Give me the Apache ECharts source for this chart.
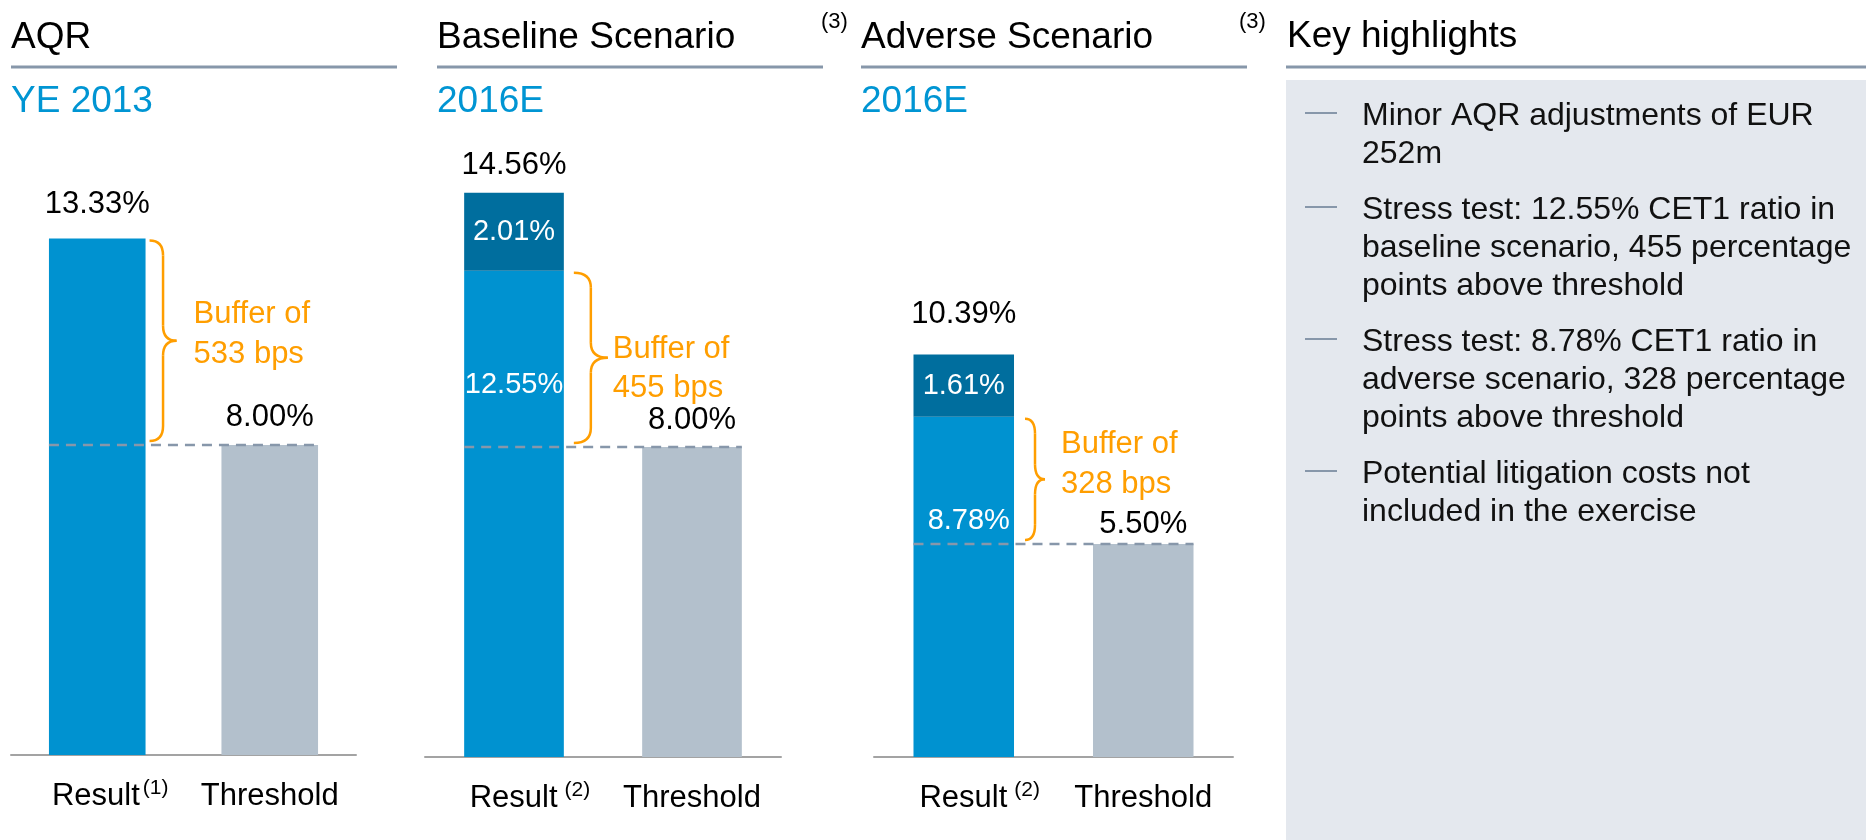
<!DOCTYPE html>
<html>
<head>
<meta charset="utf-8">
<title>AQR and stress test results</title>
<script src="https://cdn.jsdelivr.net/npm/echarts@6/dist/echarts.min.js"></script>
<style>
  html, body { margin: 0; padding: 0; background: #fff; }
  #chart { width: 1866px; height: 840px; }
</style>
</head>
<body>
<div id="chart"></div>
<script>
// panel headings
const panelTitles = ['AQR', 'Baseline Scenario', 'Adverse Scenario'];
const panelTitleNotes = ['', '(3)', '(3)'];
const panelPeriods = ['YE 2013', '2016E', '2016E'];
const categories = ['Result', 'Threshold'];
const resultNotes = ['(1)', '(2)', '(2)'];

// CET1 ratio in %
const cet1Result = [13.33, 12.55, 8.78];
const addOn = [0, 2.01, 1.61];          // dark block on top of the result
const threshold = [8.0, 8.0, 5.5];

const highlightsTitle = 'Key highlights';
const highlights = [
  ['Minor AQR adjustments of EUR', '252m'],
  ['Stress test: 12.55% CET1 ratio in', 'baseline scenario, 455 percentage', 'points above threshold'],
  ['Stress test: 8.78% CET1 ratio in', 'adverse scenario, 328 percentage', 'points above threshold'],
  ['Potential litigation costs not', 'included in the exercise']
];

// look
const FONT = '"Liberation Sans", Arial, Helvetica, sans-serif';
const BLUE = '#0092d0';
const DARK = '#006e9e';
const GREY_BAR = '#b3c0cc';
const ORANGE = '#ff9e00';
const RULE = '#8797aa';
const TITLE_BLUE = '#0095d3';

// layout of the three small charts
const grids = [
  { left: 11, top: 135, width: 345, height: 620 },
  { left: 425, top: 137, width: 356, height: 620 },
  { left: 874, top: 137, width: 359, height: 620 }
];
const headX = [11, 437, 861];
const ruleSpan = [[11, 397], [437, 823], [861, 1247]];
const noteX = [0, 821, 1239];
const totalGap = [19, 12, 24];
const thrGap = [12, 11, 4];
const innerGap = [0, 100, 90];
const brace = [
  { gap: 4, w: 27, dx: 17, dy: -15 },
  { gap: 10, w: 34, dx: 5, dy: 2 },
  { gap: 11, w: 20, dx: 16, dy: -24 }
];

const pct = (v) => v.toFixed(2) + '%';

const chart = echarts.init(document.getElementById('chart'));

const series = [];
panelTitles.forEach((t, i) => {
  const hasAddOn = addOn[i] > 0;
  series.push({
    name: t,
    type: 'bar',
    xAxisIndex: i,
    yAxisIndex: i,
    stack: 'p' + i,
    barWidth: '56%',
    data: [
      {
        value: cet1Result[i],
        itemStyle: { color: BLUE },
        label: {
          show: hasAddOn, position: 'insideTop', distance: innerGap[i],
          offset: [i === 2 ? 5 : 0, 0],
          color: '#fff', fontSize: 29, fontFamily: FONT,
          formatter: (p) => pct(p.value)
        }
      },
      {
        value: threshold[i],
        itemStyle: { color: GREY_BAR },
        label: {
          show: true, position: 'top', distance: thrGap[i],
          color: '#000', fontSize: 31, fontFamily: FONT,
          formatter: (p) => pct(p.value)
        }
      }
    ]
  });
  series.push({
    type: 'bar',
    xAxisIndex: i,
    yAxisIndex: i,
    stack: 'p' + i,
    barWidth: '56%',
    data: [
      {
        value: addOn[i],
        itemStyle: { color: DARK },
        label: {
          show: hasAddOn, position: 'inside',
          color: '#fff', fontSize: 29, fontFamily: FONT,
          formatter: (p) => pct(p.value)
        }
      },
      '-'
    ]
  });
  // total on top of the result bar
  series.push({
    type: 'scatter',
    xAxisIndex: i,
    yAxisIndex: i,
    symbolSize: 0,
    itemStyle: { opacity: 1 },
    data: [[0, +(cet1Result[i] + addOn[i]).toFixed(2)]],
    label: {
      show: true, position: 'top', distance: totalGap[i],
      color: '#000', opacity: 1, fontSize: 31, fontFamily: FONT,
      formatter: (p) => pct(p.value[1])
    }
  });
});

const option = {
  animation: false,
  backgroundColor: '#fff',
  textStyle: { fontFamily: FONT },
  grid: grids.map((g) => Object.assign({ outerBoundsMode: 'none', containLabel: false }, g)),
  xAxis: grids.map((g, i) => ({
    type: 'category',
    gridIndex: i,
    data: categories,
    axisLine: { lineStyle: { color: '#a3a3a3', width: 2 } },
    axisTick: { show: false },
    splitLine: { show: false },
    axisLabel: {
      interval: 0,
      margin: 23,
      formatter: (v, idx) => idx === 0 ? `{m|${v}}{s|${resultNotes[i]}}` : `{t|${v}}`,
      rich: {
        m: { fontSize: 31, lineHeight: 36, color: '#000', fontFamily: FONT, padding: [0, 0, 0, i === 0 ? 26 : 32] },
        t: { fontSize: 31, lineHeight: 36, color: '#000', fontFamily: FONT },
        s: { fontSize: 21, lineHeight: 12, verticalAlign: 'top', color: '#000', fontFamily: FONT, padding: [0, 0, 0, i === 0 ? 3 : 7] }
      }
    }
  })),
  yAxis: grids.map((g, i) => ({
    type: 'value', gridIndex: i, min: 0, max: 16, show: false
  })),
  series: series
};

chart.setOption(option);

// headings, rules, braces and the highlights box
const gfx = [];
const txt = (x, y, text, size, color, extra) => ({
  type: 'text',
  x: x, y: y,
  z: 20,
  style: Object.assign({
    text: text, fill: color, fontSize: size, fontFamily: FONT,
    align: 'left', verticalAlign: 'middle',
    textAlign: 'left', textVerticalAlign: 'middle'
  }, extra || {})
});
const line = (x1, y1, x2, y2, w, color, dash) => ({
  type: 'line', z: 15,
  shape: { x1: x1, y1: y1, x2: x2, y2: y2 },
  style: { stroke: color, lineWidth: w, lineDash: dash || null }
});
const hline = (x1, x2, y, w, color, dash) => line(x1, y, x2, y, w, color, dash);
const curve = (xa, ya, cx, cy, xb, yb) => ({
  type: 'bezierCurve', z: 15,
  shape: { x1: xa, y1: ya, cpx1: cx, cpy1: cy, x2: xb, y2: yb },
  style: { stroke: ORANGE, lineWidth: 2.5, fill: null }
});

// highlights background
gfx.push({ type: 'rect', z: 1, shape: { x: 1286, y: 80, width: 580, height: 760 }, style: { fill: '#e4e8ee' } });

panelTitles.forEach((t, i) => {
  gfx.push(txt(headX[i], 38, t, 37, '#000'));
  gfx.push(txt(headX[i], 102, panelPeriods[i], 37, TITLE_BLUE));
  gfx.push(hline(ruleSpan[i][0], ruleSpan[i][1], 67, 3, RULE));
  if (panelTitleNotes[i]) gfx.push(txt(noteX[i], 22, panelTitleNotes[i], 22, '#000'));

  const px = (c, v) => chart.convertToPixel({ gridIndex: i }, [c, v]);
  const band = px(1, 0)[0] - px(0, 0)[0];
  const half = band * 0.28;
  const r = px(0, cet1Result[i]);
  const th = px(1, threshold[i]);

  // threshold dashed line
  gfx.push(hline(r[0] - half, th[0] + half, th[1], 2.5, RULE, [10, 7]));

  // curly brace between the result and the threshold
  const b = brace[i];
  const x0 = r[0] + half + b.gap;
  const y0 = r[1] + 2;
  const y1 = th[1] - 4;
  const ym = (y0 + y1) / 2;
  const xv = x0 + b.w / 2;
  const xt = x0 + b.w;
  const rr = Math.min(15, (y1 - y0) / 4);
  gfx.push(curve(x0, y0, xv, y0, xv, y0 + rr));
  gfx.push(line(xv, y0 + rr, xv, ym - rr, 2.5, ORANGE));
  gfx.push(curve(xv, ym - rr, xv, ym, xt, ym));
  gfx.push(curve(xt, ym, xv, ym, xv, ym + rr));
  gfx.push(line(xv, ym + rr, xv, y1 - rr, 2.5, ORANGE));
  gfx.push(curve(xv, y1 - rr, xv, y1, x0, y1));

  const bps = Math.round((cet1Result[i] - threshold[i]) * 100);
  gfx.push(txt(xt + b.dx, ym + b.dy - 30.6, 'Buffer of\n' + bps + ' bps', 31, ORANGE,
    { verticalAlign: 'top', textVerticalAlign: 'top', lineHeight: 39.5 }));
});

// key highlights
gfx.push(txt(1287, 37, highlightsTitle, 37, '#000'));
gfx.push(hline(1286, 1866, 67, 3, RULE));
let bulletTop = 97;
highlights.forEach((lines) => {
  gfx.push(hline(1305, 1337, bulletTop + 16, 2, RULE));
  gfx.push(txt(1362, bulletTop, lines.join('\n'), 32, '#111',
    { verticalAlign: 'top', textVerticalAlign: 'top', lineHeight: 38 }));
  bulletTop += lines.length * 38 + 18;
});

chart.setOption({ graphic: { elements: gfx } });
</script>
</body>
</html>
